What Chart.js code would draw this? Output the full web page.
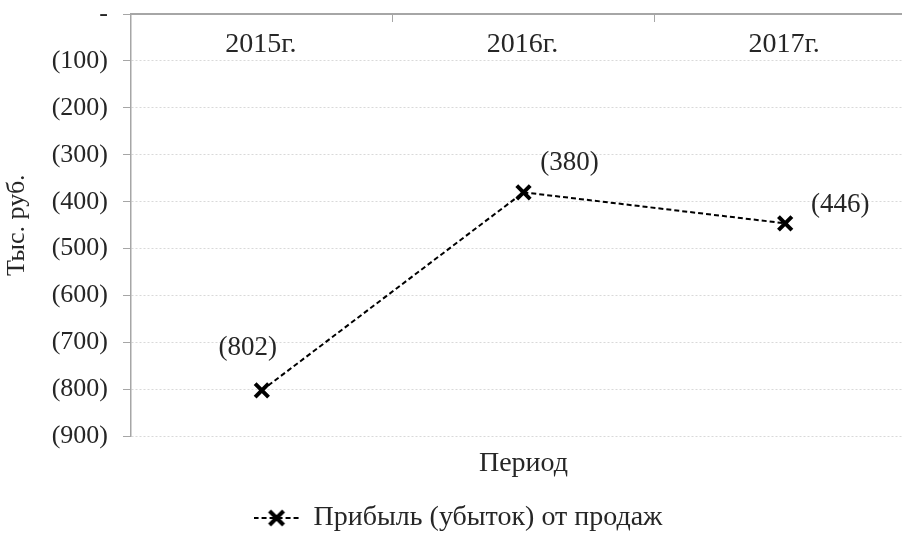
<!DOCTYPE html>
<html>
<head>
<meta charset="utf-8">
<script src="https://cdn.jsdelivr.net/npm/chart.js@4.4.1/dist/chart.umd.min.js"></script>
<style>
  html, body { margin: 0; padding: 0; background: #fff; overflow: hidden; }
  #wrap { width: 917px; height: 556px; }
</style>
</head>
<body>
<div id="wrap"><canvas id="profitChart" width="917" height="556"></canvas></div>
<script>
  // данные графика
  const periods = ['2015г.', '2016г.', '2017г.'];
  const profit = [-802, -380, -446];
  const profitLabels = ['(802)', '(380)', '(446)'];
  const yTickValues = [0, -100, -200, -300, -400, -500, -600, -700, -800, -900];
  const yTickLabels = ['-', '(100)', '(200)', '(300)', '(400)', '(500)', '(600)', '(700)', '(800)', '(900)'];

  const FONT = "'Liberation Serif', 'Times New Roman', serif";
  const TEXT = '#262626';

  // значок легенды: пунктир с крестиком
  const legendIcon = document.createElement('canvas');
  legendIcon.width = 46; legendIcon.height = 18;
  (function() {
    const c = legendIcon.getContext('2d');
    c.strokeStyle = '#000';
    c.lineWidth = 2;
    c.setLineDash([5, 3]);
    c.beginPath(); c.moveTo(0, 9); c.lineTo(46, 9); c.stroke();
    c.setLineDash([]);
    c.lineWidth = 4;
    c.beginPath();
    c.moveTo(16, 2); c.lineTo(30, 16);
    c.moveTo(30, 2); c.lineTo(16, 16);
    c.stroke();
  })();

  // подписи категорий внутри области и подписи значений
  const labelsPlugin = {
    id: 'labelsPlugin',
    afterDatasetsDraw(chart) {
      const ctx = chart.ctx;
      const x = chart.scales.x;
      const area = chart.chartArea;
      ctx.save();
      ctx.fillStyle = TEXT;
      ctx.textAlign = 'center';
      ctx.textBaseline = 'middle';
      ctx.font = '28px ' + FONT;
      periods.forEach((p, i) => {
        ctx.fillText(p, x.getPixelForValue(i) - 1, area.top + 31);
      });
      ctx.font = '27px ' + FONT;
      const offsets = [[-14, -42], [46, -29], [55, -18]];
      const meta = chart.getDatasetMeta(0);
      meta.data.forEach((pt, i) => {
        ctx.fillText(profitLabels[i], pt.x + offsets[i][0], pt.y + offsets[i][1]);
      });
      ctx.restore();
    }
  };

  new Chart(document.getElementById('profitChart'), {
    type: 'line',
    data: {
      labels: periods,
      datasets: [{
        label: 'Прибыль (убыток) от продаж',
        data: profit,
        borderColor: '#000',
        borderWidth: 2,
        borderDash: [5, 3],
        pointStyle: 'crossRot',
        pointRadius: 9.5,
        pointBorderWidth: 4,
        pointBorderColor: '#000',
        pointBackgroundColor: '#000',
        tension: 0
      }]
    },
    options: {
      responsive: false,
      animation: false,
      layout: { autoPadding: false, padding: { top: 14, left: 0, right: 1, bottom: 14 } },
      plugins: {
        legend: {
          position: 'bottom',
          labels: {
            usePointStyle: true,
            pointStyle: legendIcon,
            pointStyleWidth: 46,
            color: TEXT,
            font: { family: FONT, size: 28 },
            padding: 10
          }
        },
        tooltip: { enabled: false }
      },
      scales: {
        x: {
          position: 'top',
          offset: true,
          ticks: { display: false },
          grid: { drawOnChartArea: false, drawTicks: true, tickLength: -8, color: '#a6a6a6', offset: true },
          border: { color: '#a6a6a6', width: 2 },
          afterFit(s) { s.height = 0; }
        },
        x2: {
          position: 'bottom',
          type: 'category',
          labels: periods,
          offset: true,
          ticks: { display: false },
          grid: { display: false, drawTicks: false },
          border: { display: false },
          title: { display: true, text: 'Период', color: TEXT, font: { family: FONT, size: 28 }, padding: { top: 10, bottom: 14 } }
        },
        y: {
          min: -900,
          max: 0,
          ticks: {
            stepSize: 100,
            color: TEXT,
            font: { family: FONT, size: 26, lineHeight: 1 },
            padding: 15,
            callback: v => yTickLabels[yTickValues.indexOf(v)]
          },
          grid: { color: '#d9d9d9', tickColor: '#a6a6a6', tickLength: 8, drawTicks: true },
          border: { color: '#a6a6a6', width: 1.5, dash: [2, 2] },
          title: { display: true, text: 'Тыс. руб.', color: TEXT, font: { family: FONT, size: 26 }, padding: { top: 2, bottom: 0 } },
          afterFit(s) { s.width = 131; s.paddingTop = 0; s.paddingBottom = 0; }
        }
      }
    },
    plugins: [labelsPlugin]
  });
</script>
</body>
</html>
